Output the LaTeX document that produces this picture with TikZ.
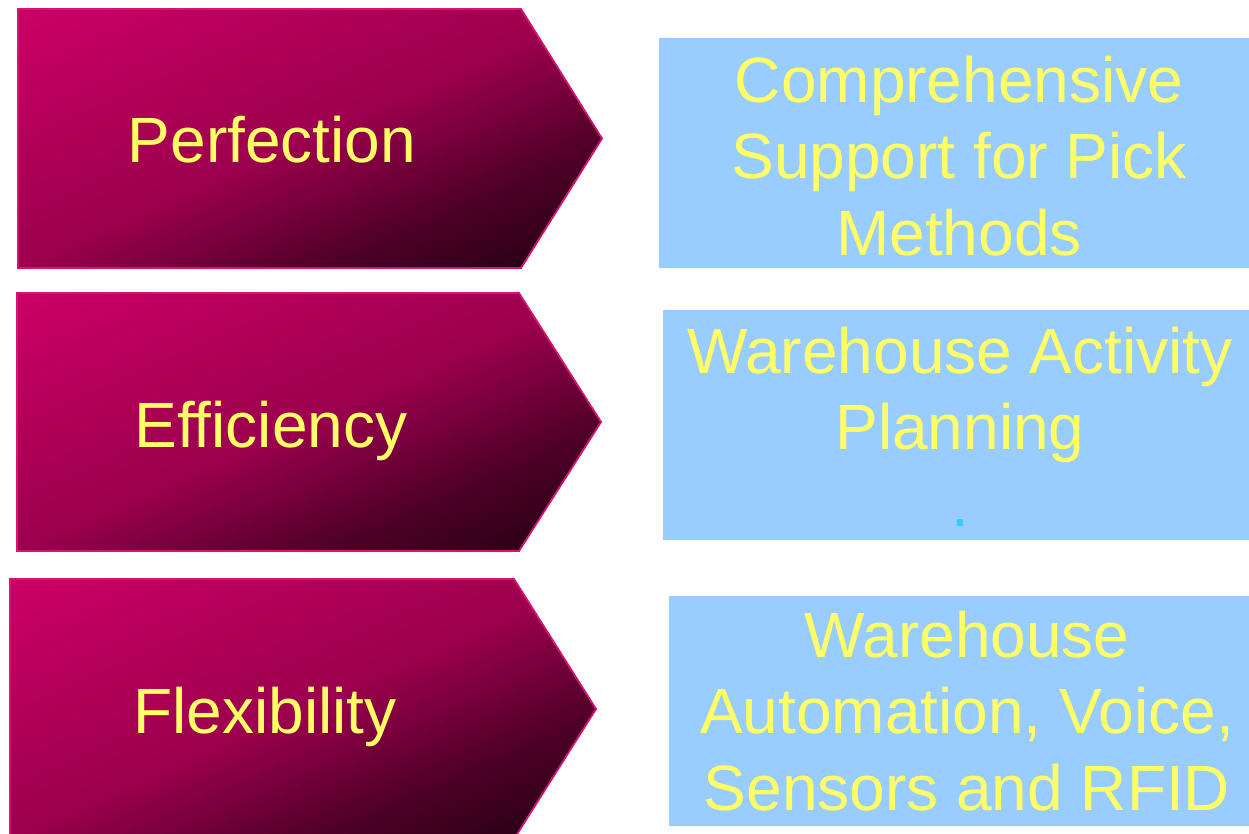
\documentclass[tikz,border=0pt]{standalone}
\usepackage{fontspec}
\setmainfont{Liberation Sans}
\definecolor{chevtop}{HTML}{CC0066}
\definecolor{chevline}{HTML}{DA1274}
\definecolor{boxblue}{HTML}{99CCFF}
\definecolor{txtyellow}{HTML}{FFFF66}
\definecolor{dotcyan}{HTML}{33CCFF}
\tikzset{
  chevborder/.style={draw=chevline, line width=1.8pt, line join=miter},
  bluebox/.style={fill=boxblue, draw=none},
  bigtext/.style={text=txtyellow, font=\fontsize{64}{76.5}\selectfont, inner sep=0pt, anchor=base, align=center},
}
% #1 x0, #2 y0, #3 full width (to tip), #4 height, #5 body width
\newcommand\mychevron[5]{%
  \begin{scope}
    \clip (#1,#2) -- ({#1+#5},#2) -- ({#1+#3},{#2+#4/2}) -- ({#1+#5},{#2+#4}) -- (#1,{#2+#4}) -- cycle;
    \foreach \i in {0,...,89}{%
      \pgfmathsetmacro\uu{(\i+0.5)/90}%
      \pgfmathsetmacro\pp{ifthenelse(\uu<0.5, 48*\uu, ifthenelse(\uu<0.75, 24+(\uu-0.5)*144, 60+(\uu-0.75)*104))}%
      \pgfmathsetmacro\cc{2*\i/90}%
      \colorlet{stripc}{black!\pp!chevtop}%
      \fill[stripc] ({#1+(\cc+1)*#3},{#2-#4}) -- ({#1+4*#3},{#2-#4}) -- (#1,{#2+3*#4}) -- ({#1+(\cc-3)*#3},{#2+3*#4}) -- cycle;
    }
  \end{scope}
  \draw[chevborder] (#1,#2) -- ({#1+#5},#2) -- ({#1+#3},{#2+#4/2}) -- ({#1+#5},{#2+#4}) -- (#1,{#2+#4}) -- cycle;
}
\begin{document}
\begin{tikzpicture}[x=1pt,y=-1pt]
\useasboundingbox (0,0) rectangle (1249,834);
% chevrons
\mychevron{18}{9}{584}{259}{503}
\mychevron{17}{293}{584}{258}{502}
\mychevron{10}{579}{586}{260}{504}
% blue boxes
\fill[bluebox] (659,38) rectangle (1249,268);
\fill[bluebox] (663,310) rectangle (1249,540);
\fill[bluebox] (669,596) rectangle (1249,826);
% chevron labels
\node[bigtext] (l1) at (272,163) {Perfection};
\node[bigtext] (l2) at (271,447) {Efficiency};
\node[bigtext] (l3) at (265,733) {Flexibility};
% box texts (anchor base = last line)
\node[bigtext] (r1) at (959,255) {Comprehensive\\Support for Pick\\Methods};
\node[bigtext] (r2) at (960,526) {Warehouse Activity\\Planning\\{\color{dotcyan}.}};
\node[bigtext] (r3) at (967,810) {Warehouse\\Automation, Voice,\\Sensors and RFID};
\end{tikzpicture}
\end{document}
